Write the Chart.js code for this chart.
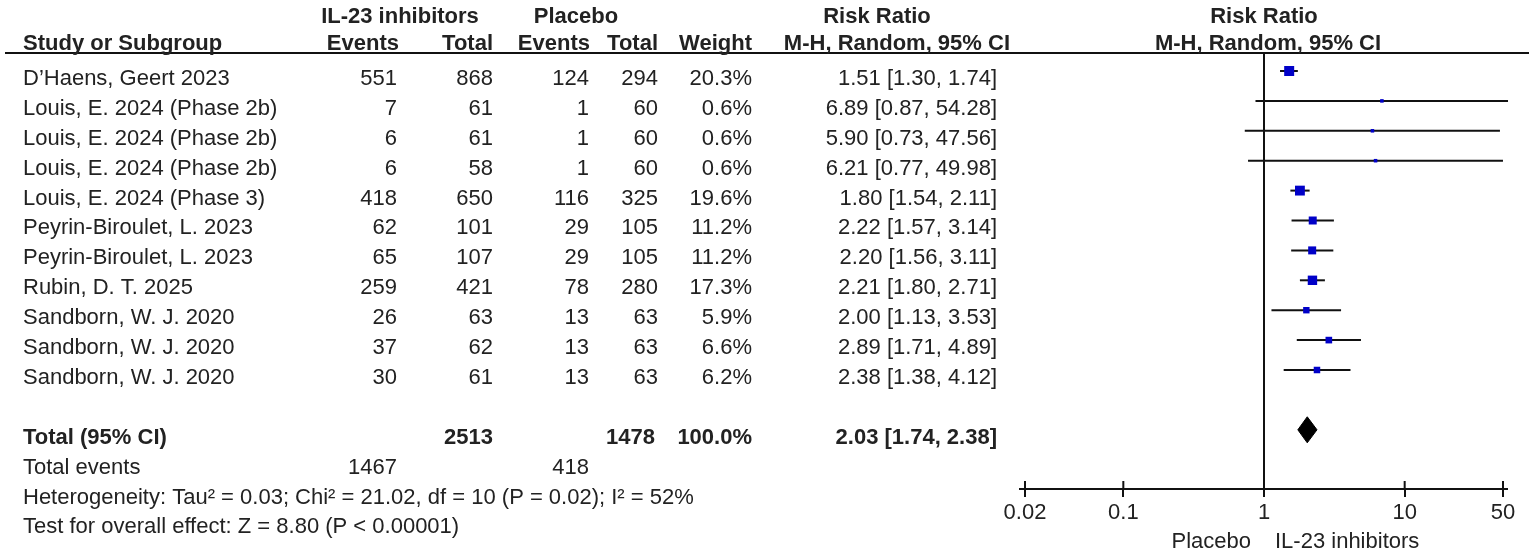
<!DOCTYPE html>
<html>
<head>
<meta charset="utf-8">
<script src="https://cdn.jsdelivr.net/npm/chart.js@4.4.1/dist/chart.umd.min.js"></script>
<style>
  html, body { margin: 0; padding: 0; background: #fff; }
  #wrap { width: 1535px; height: 551px; position: relative; }
</style>
</head>
<body>
<div id="wrap"><canvas id="forest"></canvas></div>
<script>
const studies = [
  "D\u2019Haens, Geert 2023",
  "Louis, E. 2024 (Phase 2b)",
  "Louis, E. 2024 (Phase 2b)",
  "Louis, E. 2024 (Phase 2b)",
  "Louis, E. 2024 (Phase 3)",
  "Peyrin-Biroulet, L. 2023",
  "Peyrin-Biroulet, L. 2023",
  "Rubin, D. T. 2025",
  "Sandborn, W. J. 2020",
  "Sandborn, W. J. 2020",
  "Sandborn, W. J. 2020"
]
const ilEvents = [551, 7, 6, 6, 418, 62, 65, 259, 26, 37, 30]
const ilTotal = [868, 61, 61, 58, 650, 101, 107, 421, 63, 62, 61]
const plEvents = [124, 1, 1, 1, 116, 29, 29, 78, 13, 13, 13]
const plTotal = [294, 60, 60, 60, 325, 105, 105, 280, 63, 63, 63]
const weights = [20.3, 0.6, 0.6, 0.6, 19.6, 11.2, 11.2, 17.3, 5.9, 6.6, 6.2]
const riskRatio = [1.51, 6.89, 5.90, 6.21, 1.80, 2.22, 2.20, 2.21, 2.00, 2.89, 2.38]
const ciLow = [1.30, 0.87, 0.73, 0.77, 1.54, 1.57, 1.56, 1.80, 1.13, 1.71, 1.38]
const ciHigh = [1.74, 54.28, 47.56, 49.98, 2.11, 3.14, 3.11, 2.71, 3.53, 4.89, 4.12]

const pooled = [2.03, 1.74, 2.38]          // estimate, low, high
const totals = [2513, 1478]                // IL-23, placebo participants
const totalWeight = 100.0
const totalEvents = [1467, 418]
const tickValues = [0.02, 0.1, 1, 10, 50]
const directionLabels = ["Placebo", "IL-23 inhibitors"]
const heterogeneityText = "Heterogeneity: Tau\u00b2 = 0.03; Chi\u00b2 = 21.02, df = 10 (P = 0.02); I\u00b2 = 52%"
const overallText = "Test for overall effect: Z = 8.80 (P < 0.00001)"

const FONT = '"Liberation Sans", Arial, sans-serif'
const INK = "#222"
const TOTAL_ROW = studies.length + 1

// column anchors (x of left edge for study, right edge for the rest)
const col = { study: 23, ilEvents: 397, ilTotal: 493, plEvents: 589, plTotal: 658, weight: 752, ci: 997 }

Chart.defaults.font.family = FONT

const fmt = v => v.toFixed(2)

const tablePlugin = {
  id: "forestTable",
  beforeDatasetsDraw(chart) {
    const { ctx, chartArea, scales: { x } } = chart
    ctx.save()
    ctx.strokeStyle = "#111"
    ctx.lineWidth = 2
    // header underline
    ctx.beginPath()
    ctx.moveTo(5, chartArea.top)
    ctx.lineTo(1529, chartArea.top)
    // line of no effect
    const x1 = x.getPixelForValue(1)
    ctx.moveTo(x1, chartArea.top)
    ctx.lineTo(x1, chartArea.bottom)
    // axis line + upper half of tick crosses
    ctx.moveTo(chartArea.left - 6, chartArea.bottom)
    ctx.lineTo(chartArea.right + 5, chartArea.bottom)
    tickValues.forEach(v => {
      const px = x.getPixelForValue(v)
      ctx.moveTo(px, chartArea.bottom - 8)
      ctx.lineTo(px, chartArea.bottom)
    })
    ctx.stroke()
    ctx.restore()
  },
  afterDraw(chart) {
    const { ctx, scales: { x, y } } = chart
    const base = row => y.getPixelForValue(row) + 14
    const text = (s, px, py, align, bold) => {
      ctx.font = (bold ? "bold " : "") + "22px " + FONT
      ctx.textAlign = align
      ctx.fillText(s, px, py)
    }
    ctx.save()
    ctx.fillStyle = INK
    ctx.textBaseline = "alphabetic"

    // headers
    text("IL-23 inhibitors", 400, 23, "center", true)
    text("Placebo", 576, 23, "center", true)
    text("Risk Ratio", 877, 23, "center", true)
    text("Risk Ratio", x.getPixelForValue(1), 23, "center", true)
    text("Study or Subgroup", col.study, 50, "left", true)
    text("Events", col.ilEvents + 2, 50, "right", true)
    text("Total", col.ilTotal, 50, "right", true)
    text("Events", col.plEvents + 1, 50, "right", true)
    text("Total", col.plTotal, 50, "right", true)
    text("Weight", col.weight, 50, "right", true)
    text("M-H, Random, 95% CI", 1010, 50, "right", true)
    text("M-H, Random, 95% CI", x.getPixelForValue(1) + 4, 50, "center", true)

    // study rows
    studies.forEach((name, i) => {
      const py = base(i)
      text(name, col.study, py, "left")
      text(String(ilEvents[i]), col.ilEvents, py, "right")
      text(String(ilTotal[i]), col.ilTotal, py, "right")
      text(String(plEvents[i]), col.plEvents, py, "right")
      text(String(plTotal[i]), col.plTotal, py, "right")
      text(weights[i].toFixed(1) + "%", col.weight, py, "right")
      text(fmt(riskRatio[i]) + " [" + fmt(ciLow[i]) + ", " + fmt(ciHigh[i]) + "]", col.ci, py, "right")
    })

    // totals
    let py = base(TOTAL_ROW)
    text("Total (95% CI)", col.study, py, "left", true)
    text(String(totals[0]), col.ilTotal, py, "right", true)
    text(String(totals[1]), col.plTotal - 3, py, "right", true)
    text(totalWeight.toFixed(1) + "%", col.weight, py, "right", true)
    text(fmt(pooled[0]) + " [" + fmt(pooled[1]) + ", " + fmt(pooled[2]) + "]", col.ci, py, "right", true)

    py = base(TOTAL_ROW + 1)
    text("Total events", col.study, py, "left")
    text(String(totalEvents[0]), col.ilEvents, py, "right")
    text(String(totalEvents[1]), col.plEvents, py, "right")
    text(heterogeneityText, col.study, base(TOTAL_ROW + 2), "left")
    text(overallText, col.study, base(TOTAL_ROW + 3), "left")

    // favours labels under the axis
    const x1 = x.getPixelForValue(1)
    text(directionLabels[0], x1 - 13, 548, "right")
    text(directionLabels[1], x1 + 11, 548, "left")
    ctx.restore()
  }
}

const ciSets = studies.map((s, i) => ({
  label: s,
  data: [{ x: ciLow[i], y: i }, { x: ciHigh[i], y: i }],
  showLine: true,
  borderColor: "#111",
  borderWidth: 2,
  pointRadius: 0,
  clip: false,
  order: 2
}))

const squares = {
  label: "estimate",
  data: riskRatio.map((v, i) => ({ x: v, y: i })),
  pointStyle: "rect",
  pointRadius: weights.map(w => (2.2 + 7.8 * Math.sqrt(w / 20.3)) / Math.SQRT2),
  backgroundColor: "#0000c8",
  borderWidth: 0,
  showLine: false,
  clip: false,
  order: 0
}

const halfH = 0.435
const diamond = {
  label: "pooled",
  data: [
    { x: pooled[1], y: TOTAL_ROW },
    { x: pooled[0], y: TOTAL_ROW - halfH },
    { x: pooled[2], y: TOTAL_ROW },
    { x: pooled[0], y: TOTAL_ROW + halfH },
    { x: pooled[1], y: TOTAL_ROW }
  ],
  showLine: true,
  fill: "shape",
  backgroundColor: "#000",
  borderColor: "#000",
  borderWidth: 1,
  pointRadius: 0,
  order: 1
}

new Chart(document.getElementById("forest"), {
  type: "scatter",
  data: { datasets: [squares, diamond, ...ciSets] },
  options: {
    responsive: true,
    maintainAspectRatio: false,
    animation: false,
    layout: { padding: { left: 1025, right: 32, top: 53, bottom: 0 } },
    plugins: { legend: { display: false }, tooltip: { enabled: false } },
    scales: {
      x: {
        type: "logarithmic",
        position: "bottom",
        min: 0.02,
        max: 50,
        afterBuildTicks: scale => { scale.ticks = tickValues.map(v => ({ value: v })) },
        afterFit: scale => { scale.height = 62 },
        ticks: {
          color: INK,
          font: { size: 22 },
          padding: 3,
          maxRotation: 0,
          autoSkip: false,
          callback: v => String(v)
        },
        grid: { drawOnChartArea: false, drawTicks: true, tickLength: 8, color: "#111", lineWidth: 2 },
        border: { display: false }
      },
      y: {
        type: "linear",
        reverse: true,
        min: -0.602,
        max: 13.98,
        display: false
      }
    }
  },
  plugins: [tablePlugin]
})
</script>
</body>
</html>
